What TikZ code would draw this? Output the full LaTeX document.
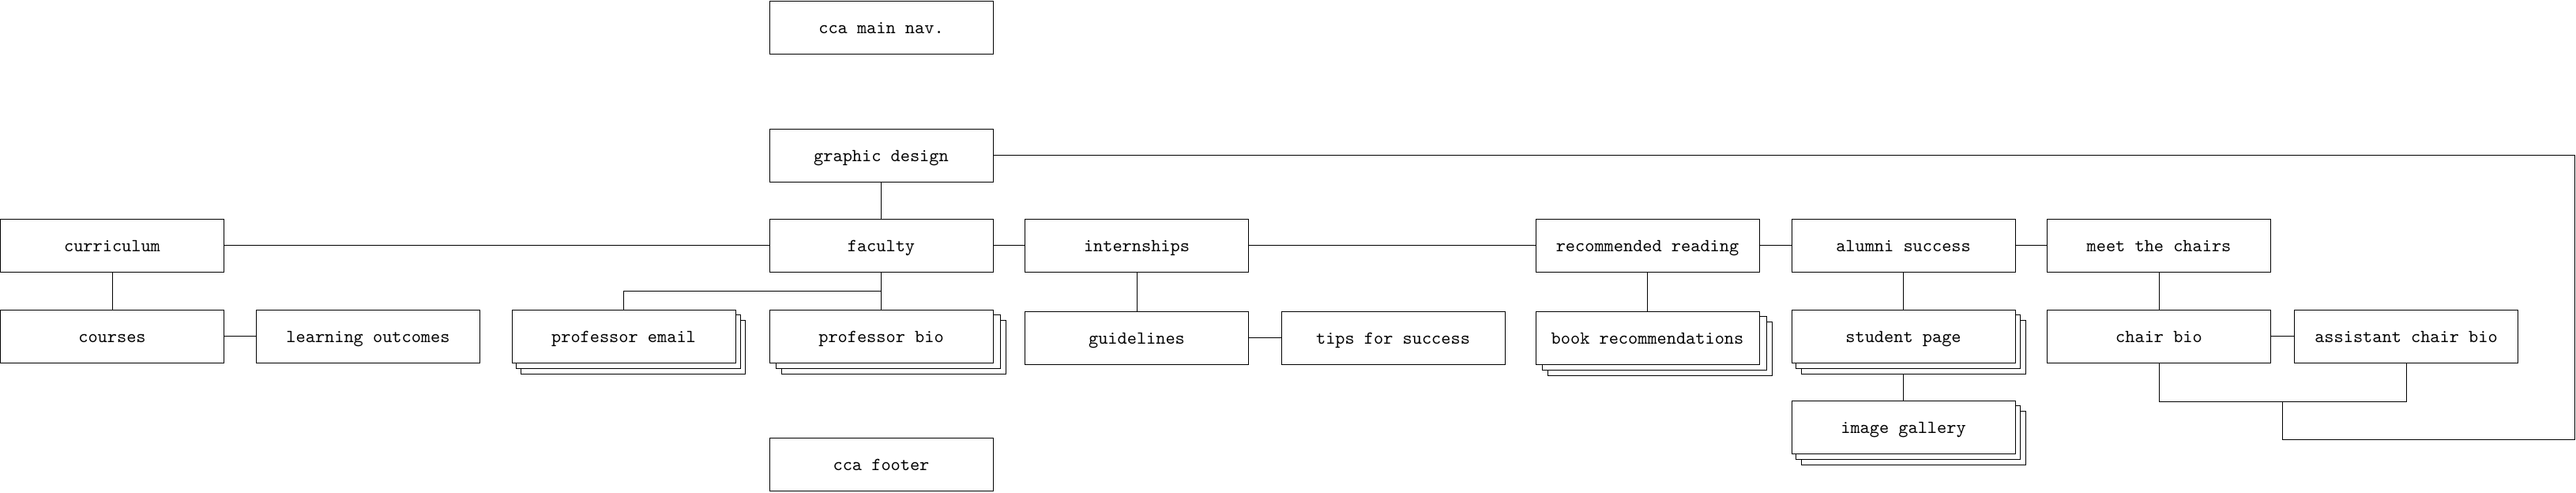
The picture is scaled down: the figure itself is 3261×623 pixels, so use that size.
\documentclass[tikz,border=0pt]{standalone}
\usetikzlibrary{calc}
\pgfdeclarelayer{bg}
\pgfdeclarelayer{sh}
\pgfsetlayers{bg,sh,main}
\begin{document}
\begin{tikzpicture}[x=0.431pt,y=-0.431pt,
  box/.style={draw,fill=white,minimum width=122pt,minimum height=28.9pt,inner sep=0pt,
    text height=6.7pt,text depth=0pt,font=\ttfamily},
  conn/.style={draw,line width=0.4pt}]
\useasboundingbox (0,0) rectangle (3261,623);
% nodes
\node[box] (nav) at (1115.5,34.5) {cca main nav.};
\node[box] (gd) at (1115.5,196.5) {graphic design};
\node[box] (curr) at (142,310.5) {curriculum};
\node[box] (fac) at (1115.5,310.5) {faculty};
\node[box] (intern) at (1439,310.5) {internships};
\node[box] (rr) at (2085.5,310.5) {recommended reading};
\node[box] (alum) at (2409.5,310.5) {alumni success};
\node[box] (meet) at (2733,310.5) {meet the chairs};
\node[box] (courses) at (142,425.5) {courses};
\node[box] (lo) at (466,425.5) {learning outcomes};
\node[box] (email) at (789.5,425.5) {professor email};
\node[box] (bio) at (1115.5,425.5) {professor bio};
\node[box] (guide) at (1439,427.5) {guidelines};
\node[box] (tips) at (1763.5,427.5) {tips for success};
\node[box] (books) at (2085.5,427.5) {book recommendations};
\node[box] (student) at (2409.5,425.5) {student page};
\node[box] (gallery) at (2409.5,540.5) {image gallery};
\node[box] (chair) at (2733,425.5) {chair bio};
\node[box] (asst) at (3046,425.5) {assistant chair bio};
\node[box] (footer) at (1115.5,588) {cca footer};
% stacked copies
\begin{pgfonlayer}{sh}
\foreach \n/\a/\b in {email/6/12,bio/8.5/16,books/8.5/16,student/5.5/12.5,gallery/5.5/13}{
  \draw[fill=white] ([shift={(\b,14)}]\n.south west) rectangle ([shift={(\b,14)}]\n.north east);
  \draw[fill=white] ([shift={(\a,7)}]\n.south west) rectangle ([shift={(\a,7)}]\n.north east);
}
\end{pgfonlayer}
% connectors
\coordinate (cb) at (2733,508);
\coordinate (ab) at (3046,508);
\coordinate (cm) at (2889.5,508);
\coordinate (r1) at (3259,196.5);
\coordinate (r2) at (3259,556);
\coordinate (r3) at (2889.5,556);
\begin{pgfonlayer}{bg}
\draw[conn] (gd) -- (fac);
\draw[conn] (fac) -- (bio);
\draw[conn] (email.north) |- ($(fac.south)!0.5!(bio.north)$);
\draw[conn] (curr) -- (fac);
\draw[conn] (curr) -- (courses);
\draw[conn] (courses) -- (lo);
\draw[conn] (fac) -- (intern);
\draw[conn] (intern) -- (rr);
\draw[conn] (intern) -- (guide);
\draw[conn] (guide) -- (tips);
\draw[conn] (rr) -- (alum);
\draw[conn] (alum) -- (meet);
\draw[conn] (rr) -- (books);
\draw[conn] (alum) -- (student);
\draw[conn] (student) -- (gallery);
\draw[conn] (meet) -- (chair);
\draw[conn] (chair) -- (asst);
\draw[conn] (chair.south) -- (cb) -- (ab) -- (asst.south);
\draw[conn] (gd.east) -- (r1) -- (r2) -- (r3) -- (cm);
\end{pgfonlayer}
\end{tikzpicture}
\end{document}
